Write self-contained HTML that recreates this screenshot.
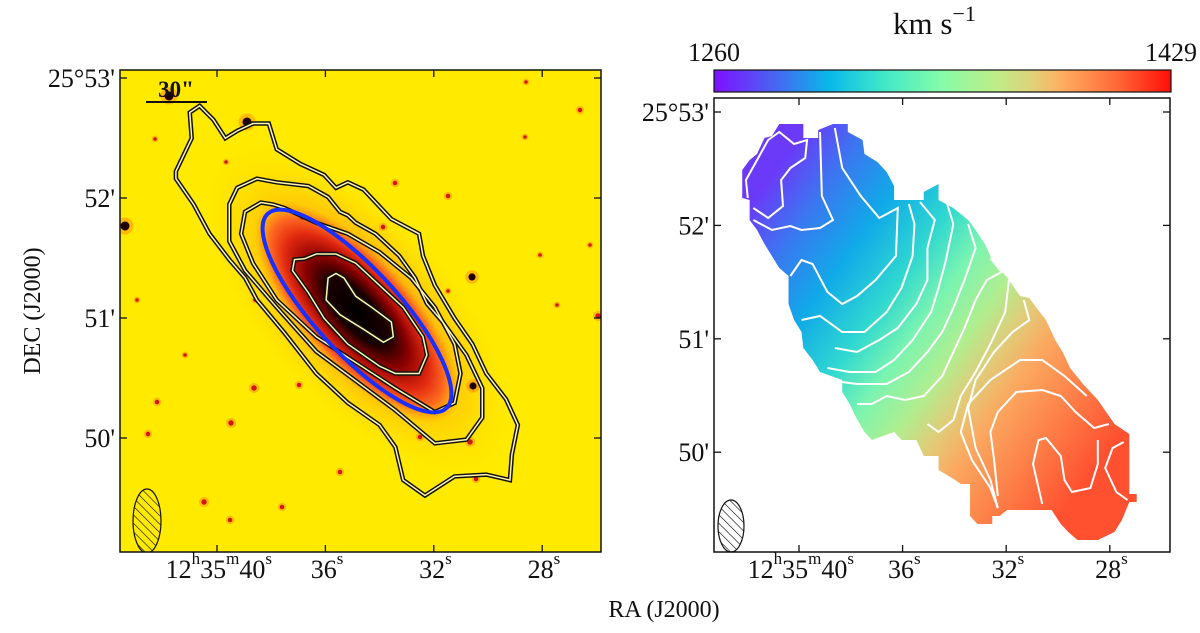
<!DOCTYPE html>
<html><head><meta charset="utf-8">
<style>
body{margin:0;background:#fff;}
svg text{font-family:"Liberation Serif",serif;fill:#111;}
</style></head>
<body>
<svg id="fig" width="1200" height="628" viewBox="0 0 1200 628" xmlns="http://www.w3.org/2000/svg">
<defs>
  <radialGradient id="halo" cx="0.5" cy="0.5" r="0.5">
    <stop offset="0" stop-color="#ff7010" stop-opacity="0.95"/>
    <stop offset="0.55" stop-color="#ff9a10" stop-opacity="0.6"/>
    <stop offset="1" stop-color="#ffdd00" stop-opacity="0"/>
  </radialGradient>
  <radialGradient id="body" cx="0.5" cy="0.5" r="0.5">
    <stop offset="0" stop-color="#000"/>
    <stop offset="0.3" stop-color="#1a0000"/>
    <stop offset="0.5" stop-color="#8a0000"/>
    <stop offset="0.7" stop-color="#e02810"/>
    <stop offset="0.85" stop-color="#ff6a20"/>
    <stop offset="1" stop-color="#ff9a10" stop-opacity="0"/>
  </radialGradient>
  <linearGradient id="cbar" x1="0" x2="1" y1="0" y2="0">
    <stop offset="0" stop-color="#7f10ff"/>
    <stop offset="0.15" stop-color="#4070f0"/>
    <stop offset="0.25" stop-color="#08b8e8"/>
    <stop offset="0.37" stop-color="#40e8c8"/>
    <stop offset="0.5" stop-color="#86fca8"/>
    <stop offset="0.62" stop-color="#c0ec88"/>
    <stop offset="0.7" stop-color="#e0d078"/>
    <stop offset="0.76" stop-color="#fdb060"/>
    <stop offset="0.88" stop-color="#fe6a38"/>
    <stop offset="1" stop-color="#ff0e08"/>
  </linearGradient>
  <linearGradient id="vel" gradientUnits="userSpaceOnUse" x1="400" y1="450" x2="1300" y2="1150">
    <stop offset="0" stop-color="#6a3af8"/>
    <stop offset="0.12" stop-color="#3a78f0"/>
    <stop offset="0.25" stop-color="#10aae8"/>
    <stop offset="0.38" stop-color="#30d8d0"/>
    <stop offset="0.48" stop-color="#7af4b0"/>
    <stop offset="0.58" stop-color="#b0ee90"/>
    <stop offset="0.66" stop-color="#e0cc78"/>
    <stop offset="0.74" stop-color="#fca860"/>
    <stop offset="0.86" stop-color="#fd8048"/>
    <stop offset="1" stop-color="#ff5030"/>
  </linearGradient>
  <pattern id="hatch" width="6" height="6" patternUnits="userSpaceOnUse" patternTransform="rotate(-45)">
    <line x1="0" y1="0" x2="0" y2="6" stroke="#111" stroke-width="1.2"/>
  </pattern>
  <clipPath id="clipL"><rect x="120" y="70" width="481" height="482"/></clipPath>
</defs>

<!-- LEFT PANEL -->
<g clip-path="url(#clipL)">
  <rect x="120" y="70" width="481" height="482" fill="#ffea00"/>
  <ellipse cx="358" cy="310" rx="205" ry="95" transform="rotate(48 358 310)" fill="url(#halo)"/>
  <ellipse cx="357" cy="312" rx="140" ry="56" transform="rotate(48 357 312)" fill="url(#body)"/>
  <g id="stars"></g>
  <g transform="translate(0,50) scale(0.3953,0.3676)" fill="none">
    <g stroke="#111" stroke-width="4.5">
      <path id="c1" vector-effect="non-scaling-stroke" d="M505,152 L480,170 485,240 445,330 445,350 490,420 530,500 580,570 620,620 650,680 720,770 800,880 880,960 960,1020 1000,1080 1020,1170 1075,1212 1150,1160 1230,1155 1290,1170 1295,1100 1310,1020 1280,950 1230,880 1195,800 1150,730 1100,640 1070,560 1060,500 990,460 920,380 880,360 850,375 820,340 760,310 700,270 680,200 640,200 600,220 570,240 540,190 Z"/>
      <path id="c2" vector-effect="non-scaling-stroke" d="M650,350 L600,375 580,420 580,520 620,600 700,700 800,820 900,900 1000,980 1100,1070 1180,1060 1220,1000 1220,920 1180,830 1120,740 1080,690 1050,620 1010,560 950,500 900,470 880,450 860,440 830,400 780,370 700,360 Z"/>
      <path id="c3" vector-effect="non-scaling-stroke" d="M660,415 L620,440 610,500 640,580 700,680 800,780 900,850 1000,920 1100,985 1150,960 1165,880 1150,800 1100,700 1040,620 960,550 880,500 800,470 760,450 720,430 690,420 Z"/>
      <path id="c4" vector-effect="non-scaling-stroke" d="M745,570 L740,600 780,660 820,730 880,800 960,860 1000,880 1060,880 1080,830 1070,780 1020,700 960,640 900,580 850,555 800,555 770,568 Z"/>
      <path id="c5" vector-effect="non-scaling-stroke" d="M830,620 L825,680 860,720 920,760 970,795 995,780 990,740 940,700 900,670 870,620 850,608 Z"/>
    </g>
    <g stroke="#fff6b0" stroke-width="1.5">
      <use href="#c1" stroke="#fff6b0" stroke-width="1.5"/>
      <use href="#c2" stroke="#fff6b0" stroke-width="1.5"/>
      <use href="#c3" stroke="#fff6b0" stroke-width="1.5"/>
      <use href="#c4" stroke="#fff6b0" stroke-width="1.5"/>
      <use href="#c5" stroke="#fff6b0" stroke-width="1.5"/>
    </g>
  </g>
  <ellipse cx="357" cy="311" rx="132" ry="42" transform="rotate(47.5 357 311)" fill="none" stroke="#1a30ff" stroke-width="4"/>
  <ellipse cx="147" cy="521" rx="14" ry="32" fill="url(#hatch)" stroke="#111" stroke-width="1.2"/>
  <line x1="146" y1="102" x2="207" y2="102" stroke="#111" stroke-width="2"/>
  <text x="176" y="97" font-size="23" font-weight="bold" text-anchor="middle">30"</text>
</g>
<rect x="120" y="70" width="481" height="482" fill="none" stroke="#111" stroke-width="1.5"/>

<!-- RIGHT PANEL -->
<g>
  <rect x="714" y="98" width="456" height="454" fill="#fff"/>
  <g transform="translate(620,0) scale(0.3704,0.4)">
    <path fill="url(#vel)" d="M430,310 L495,310 495,345 535,345 535,325 575,310 615,310 615,330 655,350 660,385 695,405 720,430 740,465 740,500 820,500 820,480 860,460 860,500 900,520 940,550 960,575 985,610 1005,650 1025,670 1050,700 1080,740 1105,745 1125,770 1150,800 1175,850 1195,880 1215,920 1250,960 1290,1000 1320,1040 1335,1060 1375,1085 1375,1235 1395,1235 1395,1255 1375,1255 1355,1300 1335,1330 1290,1350 1235,1350 1210,1330 1190,1310 1165,1275 1045,1275 1025,1290 1005,1290 1005,1310 965,1310 945,1290 945,1210 920,1210 905,1200 860,1175 860,1140 820,1140 800,1100 760,1100 740,1080 680,1100 660,1080 635,1040 620,1010 600,980 600,950 540,930 520,900 495,870 490,830 470,800 455,760 455,690 430,670 410,640 390,610 370,575 350,550 350,500 330,495 330,425 350,400 370,385 390,345 410,340 Z"/>
    <g fill="none" stroke="#fff" stroke-width="2">
      <path vector-effect="non-scaling-stroke" d="M360,520 L400,545 440,515 435,450 460,420 500,395 505,350 470,360 430,330 400,350 340,450 345,495"/>
      <path vector-effect="non-scaling-stroke" d="M540,330 L545,490 575,550 540,570 490,575 460,565 410,575 360,550"/>
      <path vector-effect="non-scaling-stroke" d="M580,320 L600,420 650,490 700,545 750,520 745,640 690,700 640,740 600,760 560,730 520,660 490,650 460,690"/>
      <path vector-effect="non-scaling-stroke" d="M780,510 L795,560 790,640 760,720 720,780 660,830 600,830 540,790 490,800"/>
      <path vector-effect="non-scaling-stroke" d="M810,505 L850,550 830,620 830,700 800,760 750,820 700,850 640,880 580,870"/>
      <path vector-effect="non-scaling-stroke" d="M880,500 L900,560 880,650 860,720 840,780 790,850 740,900 690,930 620,930 560,920"/>
      <path vector-effect="non-scaling-stroke" d="M940,560 L960,620 930,700 900,770 870,830 830,880 780,930 720,960 640,960 600,955"/>
      <path vector-effect="non-scaling-stroke" d="M1000,645 L1030,680 990,700 960,750 930,820 900,880 870,940 820,990 770,1000 720,990 680,1010 640,1010"/>
      <path vector-effect="non-scaling-stroke" d="M1050,700 L1040,780 1000,860 960,930 920,990 900,1050 860,1080 830,1060"/>
      <path vector-effect="non-scaling-stroke" d="M1090,750 L1105,800 1060,830 1010,880 960,950 940,1020 960,1120 1000,1200 1020,1270"/>
      <path vector-effect="non-scaling-stroke" d="M1260,990 L1200,940 1140,900 1080,900 1000,950 940,1010 920,1080 950,1150 1000,1220 1020,1270"/>
      <path vector-effect="non-scaling-stroke" d="M1320,1060 L1280,1070 1230,1030 1190,990 1140,975 1070,980 1020,1030 1000,1080 1010,1150 1020,1240"/>
      <path vector-effect="non-scaling-stroke" d="M1360,1105 L1330,1120 1310,1170 1340,1230 1370,1250"/>
      <path vector-effect="non-scaling-stroke" d="M1140,1260 L1115,1160 1130,1100 1150,1095 1190,1140 1200,1200 1220,1230 1270,1220 1290,1160 1290,1100"/>
    </g>
  </g>
  <ellipse cx="731" cy="526" rx="13" ry="26" fill="url(#hatch)" stroke="#111" stroke-width="1.2"/>
</g>
<rect x="714" y="98" width="456" height="454" fill="none" stroke="#111" stroke-width="1.5"/>

<!-- COLORBAR -->
<rect x="714" y="70" width="457" height="22" fill="url(#cbar)" stroke="#111" stroke-width="1.2"/>
<text x="893" y="34" font-size="31">km s<tspan dy="-13" font-size="22">−1</tspan></text>
<text id="cbmin" x="688" y="61" font-size="26"></text>
<text id="cbmax" x="1197" y="61" font-size="26" text-anchor="end"></text>

<text x="0" y="0" font-size="24" text-anchor="middle" transform="translate(40,311) rotate(-90)">DEC (J2000)</text>
<text x="664" y="617" font-size="24" text-anchor="middle">RA (J2000)</text>
<g id="axes"></g>

<script>
const decLabels = ["25°53'", "52'", "51'", "50'"];
const decValues = [53, 52, 51, 50];
const raLabels = ["40", "36", "32", "28"];
const raValues = [40, 36, 32, 28];
const cbRange = [1260, 1429];
const stars = [[247,122,5],[169,96,5],[125,226,5],[472,277,4],[473,386,4],[470,442,3],[254,388,3],[204,502,3],[598,316,3],[231,423,3],[148,434,2.5],[157,402,2.5],[383,227,2.5],[340,472,2.5],[282,507,2.5],[299,385,2.5],[395,183,2.5],[580,110,2.5],[448,196,2.5],[526,82,2],[226,162,2],[155,139,2],[525,137,2],[557,305,2],[448,291,2],[476,479,2.5],[420,437,2.5],[255,300,2],[302,218,2],[137,300,2],[185,355,2],[540,255,2],[590,245,2],[360,560,2.5],[230,520,2.5]];

const NS = "http://www.w3.org/2000/svg";
function mk(tag, attrs, parent){const e=document.createElementNS(NS,tag);for(const k in attrs)e.setAttribute(k,attrs[k]);parent.appendChild(e);return e;}
function ts(parent, txt, attrs){const t=mk('tspan',attrs||{},parent);t.textContent=txt;return t;}

document.getElementById('cbmin').textContent = cbRange[0];
document.getElementById('cbmax').textContent = cbRange[1];

const sg = document.getElementById('stars');
stars.forEach(s=>{
  const c = mk('circle',{cx:s[0],cy:s[1],r:s[2]*1.7,fill:'#ff6010','fill-opacity':0.35},sg);
  
  
  const d = mk('circle',{cx:s[0],cy:s[1],r:s[2]*0.9,fill:s[2]>=4?'#200000':'#d01818'},sg);
  
  
});

const panels = [
  {x0:120,x1:601,y0:70,y1:552, decY:v=>78+(53-v)*120, raX:v=>217+(40-v)*27.1, labX:115},
  {x0:714,x1:1170,y0:98,y1:552, decY:v=>112+(53-v)*113.4, raX:v=>799+(40-v)*25.9, labX:709}
];
const ax = document.getElementById('axes');
panels.forEach((p,pi)=>{
  decValues.forEach((v,i)=>{
    const y = p.decY(v);
    const t1 = mk('line',{x1:p.x0,x2:p.x0+7,y1:y,y2:y,stroke:'#111','stroke-width':1.3},ax);
    
    
    const t2 = mk('line',{x1:p.x1,x2:p.x1-7,y1:y,y2:y,stroke:'#111','stroke-width':1.3},ax);
    
    
    const lb = mk('text',{x:p.labX,y:y+9,'font-size':26,'text-anchor':'end'},ax);
    lb.textContent = decLabels[i];
    
    
  });
  raValues.forEach((v,i)=>{
    const x = p.raX(v);
    const t1 = mk('line',{x1:x,x2:x,y1:p.y1,y2:p.y1-7,stroke:'#111','stroke-width':1.3},ax);
    
    
    const t2 = mk('line',{x1:x,x2:x,y1:p.y0,y2:p.y0+7,stroke:'#111','stroke-width':1.3},ax);
    
    
    let lb;
    if(i===0){
      lb = mk('text',{x:x+55,y:p.y1+26,'font-size':26,'text-anchor':'end'},ax);
      ts(lb,'12');
      ts(lb,'h',{dy:-14,'font-size':17});
      ts(lb,'35',{dy:14});
      ts(lb,'m',{dy:-14,'font-size':17});
      ts(lb,raLabels[i],{dy:14});
      ts(lb,'s',{dy:-14,'font-size':17});
      
      
    } else {
      lb = mk('text',{x:x+18,y:p.y1+26,'font-size':26,'text-anchor':'end'},ax);
      ts(lb,raLabels[i]);
      ts(lb,'s',{dy:-14,'font-size':17});
      
      
    }
  });
});
</script>
</svg>
</body></html>
